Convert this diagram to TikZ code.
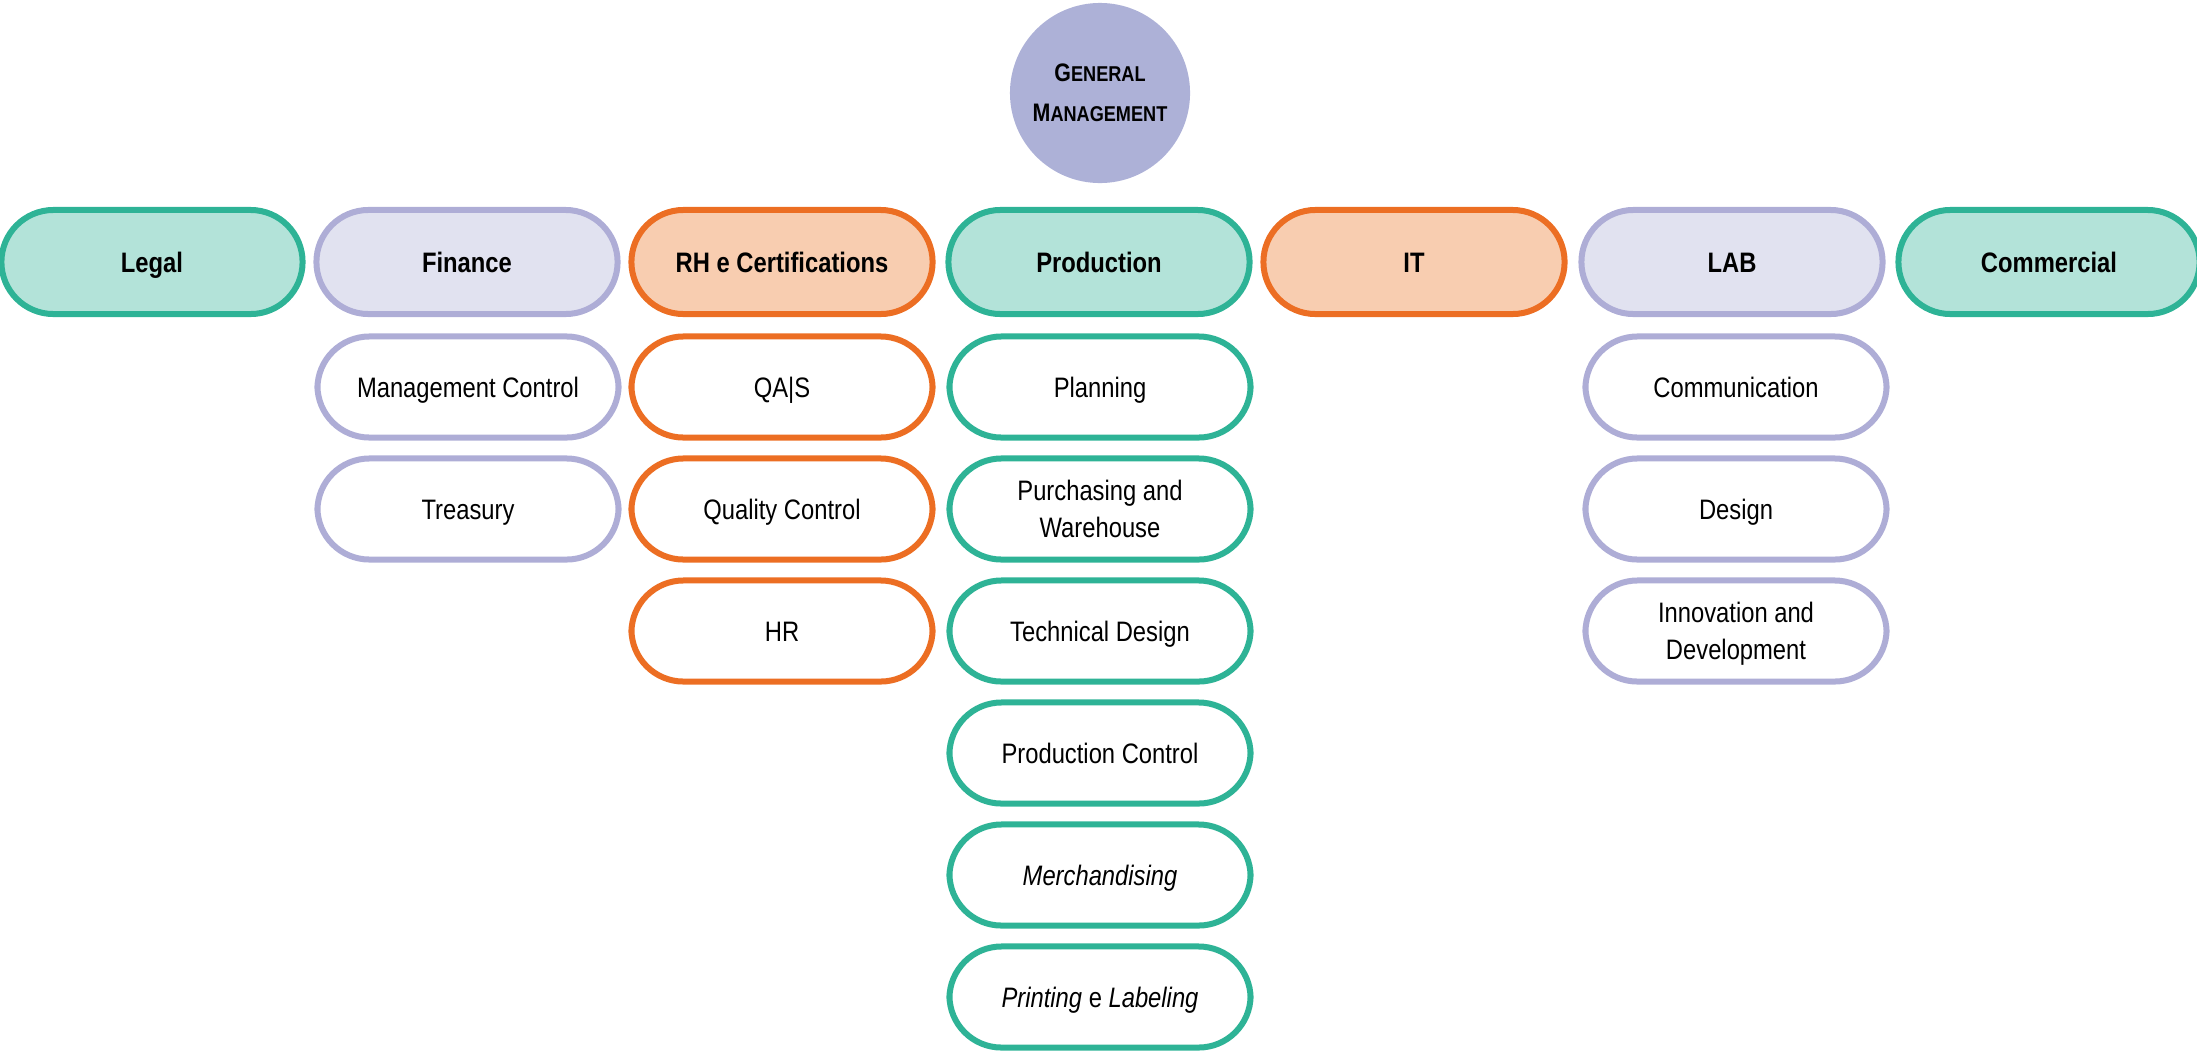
\documentclass[tikz,border=0pt]{standalone}
\usepackage{fontspec}
\setmainfont{Liberation Sans}[FakeStretch=0.845]

\definecolor{grn}{RGB}{46,179,150}
\definecolor{grnfill}{RGB}{179,227,217}
\definecolor{lil}{RGB}{174,173,214}
\definecolor{lilfill}{RGB}{225,226,240}
\definecolor{org}{RGB}{236,110,35}
\definecolor{orgfill}{RGB}{248,205,176}
\definecolor{gmfill}{RGB}{173,177,215}

\tikzset{
  unit/.style={rectangle, rounded corners=0.52cm, minimum width=3.01cm,
    minimum height=1.01cm, line width=0.06cm, align=center, inner sep=0pt,
    text height=5.73pt, text depth=0pt,
    font=\fontsize{8}{10.5}\selectfont},
  % two lines: cap top of the first line to baseline of the second
  twoline/.style={text height=16.23pt, text depth=0pt},
  head/.style={unit, minimum height=1.04cm, font=\fontsize{8}{10.5}\selectfont\bfseries},
  greenhead/.style={head, draw=grn, fill=grnfill},
  lilachead/.style={head, draw=lil, fill=lilfill},
  orangehead/.style={head, draw=org, fill=orgfill},
  greensub/.style={unit, draw=grn, fill=white},
  lilacsub/.style={unit, draw=lil, fill=white},
  orangesub/.style={unit, draw=org, fill=white},
}
\newcommand{\capG}[1]{{\fontsize{7.2}{10.5}\selectfont #1}}
\newcommand{\smc}[1]{{\fontsize{6.1}{10.5}\selectfont #1}}

\begin{document}
\begin{tikzpicture}[x=0.01cm, y=-0.01cm]
  \useasboundingbox (0,0) rectangle (2197,1054);

  % top of the hierarchy
  \node[circle, fill=gmfill, minimum size=1.8cm, inner sep=0pt, align=center,
        font=\bfseries] (gm) at (1100,93)
    {\capG{G}\smc{ENERAL}\\[-0.5pt]\capG{M}\smc{ANAGEMENT}};

  % departments
  \node[greenhead]  (legal) at (152,262)  {Legal};
  \node[lilachead]  (fin)   at (467,262)  {Finance};
  \node[orangehead] (rh)    at (782,262)  {RH e Certifications};
  \node[greenhead]  (prod)  at (1099,262) {Production};
  \node[orangehead] (it)    at (1414,262) {IT};
  \node[lilachead]  (lab)   at (1732,262) {LAB};
  \node[greenhead]  (com)   at (2049,262) {Commercial};

  % Finance units
  \node[lilacsub] (mc)  at (468,387) {Management Control};
  \node[lilacsub] (tre) at (468,509) {Treasury};

  % RH e Certifications units
  \node[orangesub] (qas) at (782,387) {QA|S};
  \node[orangesub] (qc)  at (782,509) {Quality Control};
  \node[orangesub] (hr)  at (782,631) {HR};

  % Production units
  \node[greensub] (plan) at (1100,387) {Planning};
  \node[greensub, twoline] (pw) at (1100,509) {Purchasing and\\Warehouse};
  \node[greensub] (td)   at (1100,631) {Technical Design};
  \node[greensub] (pc)   at (1100,753) {Production Control};
  \node[greensub] (mer)  at (1100,875) {\itshape Merchandising};
  \node[greensub] (pl)   at (1100,997) {\textit{Printing} e \textit{Labeling}};

  % LAB units
  \node[lilacsub] (comm) at (1736,387) {Communication};
  \node[lilacsub] (des)  at (1736,509) {Design};
  \node[lilacsub, twoline] (inn) at (1736,631) {Innovation and\\Development};
\end{tikzpicture}
\end{document}
